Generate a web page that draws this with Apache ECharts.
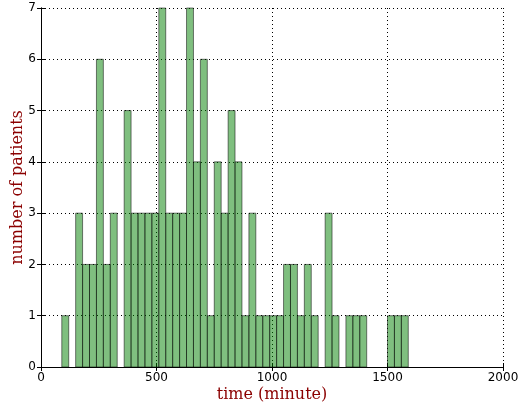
<!DOCTYPE html>
<html>
<head>
<meta charset="utf-8">
<script src="https://cdn.jsdelivr.net/npm/echarts@6/dist/echarts.min.js"></script>
<style>
  html, body { margin: 0; padding: 0; background: #fff; }
  #chart { width: 521px; height: 406px; }
</style>
</head>
<body>
<div id="chart"></div>
<script>
// histogram bins (minutes): left edge of each bin, width 30
const binLefts = [
  90, 120, 150, 180, 210, 240, 270, 300, 330, 360,
  390, 420, 450, 480, 510, 540, 570, 600, 630, 660,
  690, 720, 750, 780, 810, 840, 870, 900, 930, 960,
  990, 1020, 1050, 1080, 1110, 1140, 1170, 1200, 1230, 1260,
  1290, 1320, 1350, 1380, 1410, 1440, 1470, 1500, 1530, 1560
]
const binWidth = 30
const counts = [
  1, 0, 3, 2, 2, 6, 2, 3, 0, 5,
  3, 3, 3, 3, 7, 3, 3, 3, 7, 4,
  6, 1, 4, 3, 5, 4, 1, 3, 1, 1,
  1, 1, 2, 2, 1, 2, 1, 0, 3, 1,
  0, 1, 1, 1, 0, 0, 0, 1, 1, 1
]

const xTicks = [0, 500, 1000, 1500, 2000]
const yTicks = [0, 1, 2, 3, 4, 5, 6, 7]

const chart = echarts.init(document.getElementById('chart'))

const tickFont = { color: '#000', fontSize: 12, fontFamily: 'DejaVu Sans' }
const nameFont = { color: '#8b0000', fontSize: 16, fontFamily: 'DejaVu Serif' }
const grid = { left: 41, right: 18, top: 8, bottom: 39, outerBoundsMode: 'none', containLabel: false }

const data = binLefts
  .map((left, i) => [left, left + binWidth, counts[i]])
  .filter(d => d[2] > 0)

function renderBin(params, api) {
  const p0 = api.coord([api.value(0), api.value(2)])
  const p1 = api.coord([api.value(1), 0])
  return {
    type: 'rect',
    shape: { x: p0[0], y: p0[1], width: p1[0] - p0[0], height: p1[1] - p0[1] },
    style: { fill: 'rgba(0,128,0,0.5)', stroke: 'rgba(0,0,0,0.5)', lineWidth: 1 }
  }
}

const option = {
  animation: false,
  grid: grid,
  xAxis: [
    {
      type: 'value',
      min: xTicks[0],
      max: xTicks[xTicks.length - 1],
      interval: 500,
      name: 'time (minute)',
      nameLocation: 'middle',
      nameGap: 20,
      nameMoveOverlap: false,
      nameTextStyle: nameFont,
      axisLine: { lineStyle: { color: '#000', width: 1 } },
      axisTick: { inside: true, length: 4, lineStyle: { color: '#000' } },
      axisLabel: Object.assign({ margin: 5, formatter: v => String(v) }, tickFont),
      splitLine: { show: true, lineStyle: { color: '#000', type: [1, 3], width: 1 } }
    },
    {
      type: 'value',
      position: 'top',
      min: xTicks[0],
      max: xTicks[xTicks.length - 1],
      interval: 500,
      axisLine: { lineStyle: { color: '#000', width: 1 } },
      axisTick: { inside: true, length: 4, lineStyle: { color: '#000' } },
      axisLabel: { show: false },
      splitLine: { show: false }
    }
  ],
  yAxis: [
    {
      type: 'value',
      min: yTicks[0],
      max: yTicks[yTicks.length - 1],
      interval: 1,
      name: 'number of patients',
      nameLocation: 'middle',
      nameGap: 15,
      nameRotate: 90,
      nameMoveOverlap: false,
      nameTextStyle: nameFont,
      axisLine: { show: true, lineStyle: { color: '#000', width: 1 } },
      axisTick: { show: true, inside: true, length: 4, lineStyle: { color: '#000' } },
      axisLabel: Object.assign({ margin: 5 }, tickFont),
      splitLine: { show: true, lineStyle: { color: '#000', type: [1, 3], width: 1 } }
    },
    {
      type: 'value',
      position: 'right',
      min: yTicks[0],
      max: yTicks[yTicks.length - 1],
      interval: 1,
      axisLine: { show: true, lineStyle: { color: '#000', width: 1 } },
      axisTick: { show: true, inside: true, length: 4, lineStyle: { color: '#000' } },
      axisLabel: { show: false },
      splitLine: { show: false }
    }
  ],
  series: [
    {
      type: 'custom',
      xAxisIndex: 0,
      yAxisIndex: 0,
      renderItem: renderBin,
      encode: { x: [0, 1], y: 2 },
      data: data,
      z: 1
    }
  ]
}

chart.setOption(option)
</script>
</body>
</html>
